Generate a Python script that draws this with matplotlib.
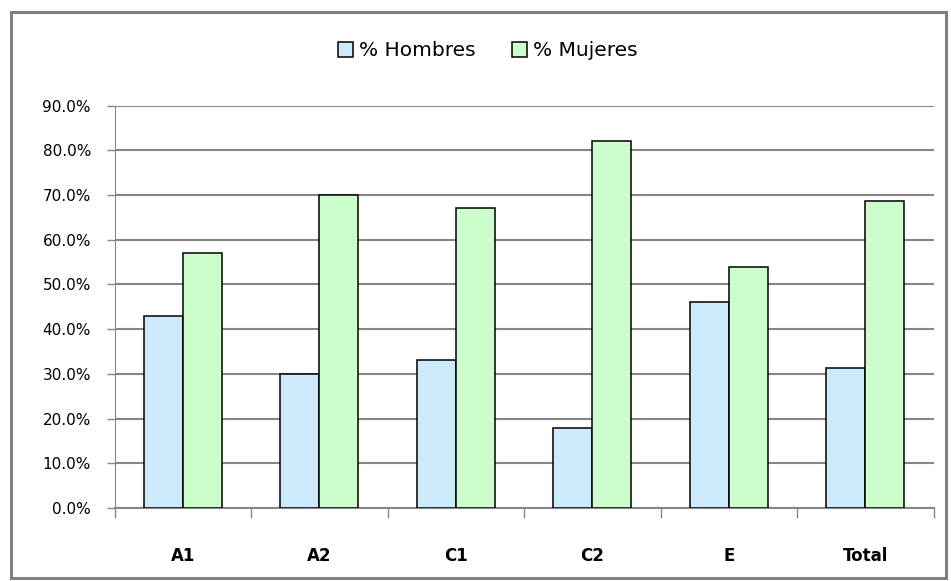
import numpy as np
import matplotlib
matplotlib.use("Agg")
from matplotlib import pyplot as plt
from matplotlib.patches import Rectangle
from matplotlib.ticker import FixedLocator, PercentFormatter

# Niveles y porcentajes por sexo
niveles = ["A1", "A2", "C1", "C2", "E", "Total"]
pct_hombres = [0.43, 0.30, 0.33, 0.18, 0.46, 0.313]
pct_mujeres = [0.57, 0.70, 0.67, 0.82, 0.54, 0.687]
marcas_y = [0.0, 0.1, 0.2, 0.3, 0.4, 0.5, 0.6, 0.7, 0.8, 0.9]

azul = "#CCEAFC"
verde = "#CCFFCC"
gris = "#868686"

fig = plt.figure(figsize=(9.51, 5.81), dpi=100)
fig.patch.set_facecolor("white")

# Marco del área del gráfico
fig.patches.append(Rectangle((10.5 / 951, 3 / 581), 935 / 951, 566 / 581,
                             transform=fig.transFigure, fill=False,
                             edgecolor="#808080", linewidth=2.2))

ax = fig.add_axes([114.6 / 951, 73 / 581, 819 / 951, 402.5 / 581])

x = np.arange(len(niveles))
ancho = 1 / 3.5
ax.bar(x - ancho / 2, pct_hombres, ancho, color=azul, edgecolor="black",
       linewidth=1.1, label="% Hombres", zorder=3)
ax.bar(x + ancho / 2, pct_mujeres, ancho, color=verde, edgecolor="black",
       linewidth=1.1, label="% Mujeres", zorder=3)

ax.set_xlim(-0.5, len(niveles) - 0.5)
ax.set_ylim(0, 0.9)

ax.set_yticks(marcas_y)
ax.yaxis.set_major_formatter(PercentFormatter(1.0, decimals=1))
ax.tick_params(axis="y", direction="out", length=6, width=1, color=gris,
               pad=11, labelsize=11)

ax.set_xticks(x)
ax.set_xticklabels(niveles, fontsize=12, fontweight="bold",
                   family=["Liberation Sans Narrow", "DejaVu Sans"])
ax.xaxis.set_minor_locator(FixedLocator(np.arange(-0.5, len(niveles), 1.0)))
ax.tick_params(axis="x", which="major", length=0, pad=28)
ax.tick_params(axis="x", which="minor", length=7, width=1, color=gris)

ax.grid(axis="y", color=gris, linewidth=1.5, zorder=0)
ax.set_axisbelow(True)
for lado in ["top", "right"]:
    ax.spines[lado].set_visible(False)
ax.spines["left"].set_color(gris)
ax.spines["bottom"].set_color(gris)
ax.spines["bottom"].set_linewidth(1.5)

fig.legend(loc="center", bbox_to_anchor=(488 / 951, 1 - 51 / 581), ncol=2,
           frameon=False, fontsize=14.5, handlelength=0.75, handleheight=0.75,
           handletextpad=0.3, columnspacing=1.8)

fig.savefig("out.png", dpi=100, facecolor="white")
